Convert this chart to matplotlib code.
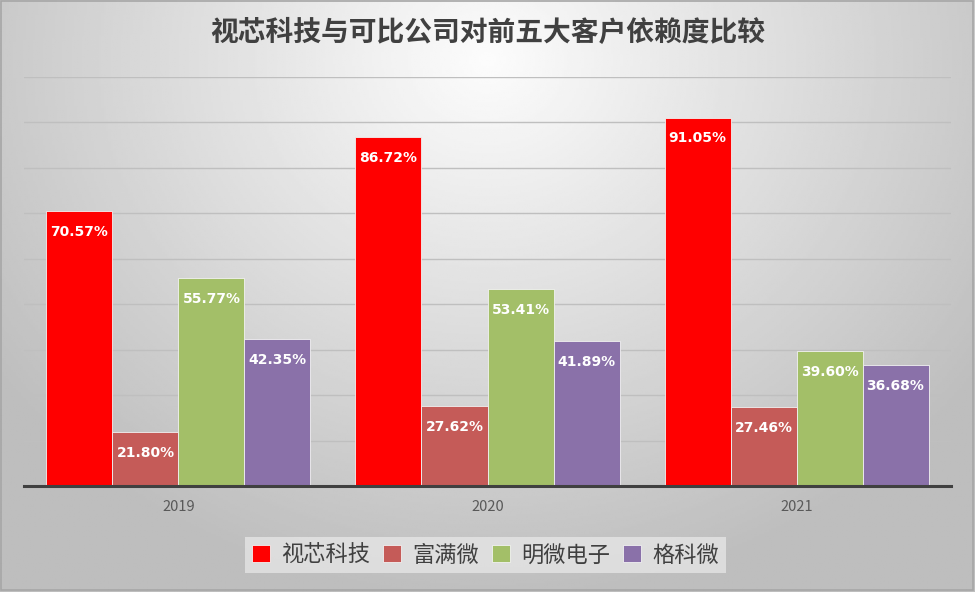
import numpy as np
import matplotlib
matplotlib.use("Agg")
import matplotlib.pyplot as plt
from matplotlib.patches import Rectangle

plt.rcParams['font.family'] = ['Noto Sans CJK SC', 'DejaVu Sans']

# --- DATA ---
years = ["2019", "2020", "2021"]
companies = ["视芯科技", "富满微", "明微电子", "格科微"]
shixin = [70.57, 86.72, 91.05]
fuman = [21.80, 27.62, 27.46]
mingwei = [55.77, 53.41, 39.60]
gekewei = [42.35, 41.89, 36.68]
series = [shixin, fuman, mingwei, gekewei]
colors = ["#FF0000", "#C55B58", "#A3BF68", "#8A71A9"]
title = "视芯科技与可比公司对前五大客户依赖度比较"

fig = plt.figure(figsize=(9.75, 5.92), dpi=100)

# background gradient (light top centre, grey edges)
bg = fig.add_axes([0, 0, 1, 1], zorder=-10)
gx, gy = np.meshgrid(np.linspace(0, 1, 400), np.linspace(0, 1, 300))
d = np.sqrt(((gx - 0.5) / 0.75) ** 2 + ((gy - 0.1) / 1.1) ** 2)
shade = np.clip(252 - 75 * d, 190, 252) / 255.0
bg.imshow(shade, cmap="gray", vmin=0, vmax=1, aspect="auto", extent=[0, 1, 1, 0])
bg.add_patch(Rectangle((0.001, 0.002), 0.997, 0.995, fill=False, ec="#A6A6A6", lw=1.2))
bg.set_xlim(0, 1)
bg.set_ylim(1, 0)
bg.axis("off")

ax = fig.add_axes([0.0246, 0.179, 0.9508, 0.691])
ax.patch.set_alpha(0)

x = np.arange(len(years))
w = 0.2136
for i, (vals, c, name) in enumerate(zip(series, colors, companies)):
    pos = x + (i - 1.5) * w
    bars = ax.bar(pos, np.array(vals) - 10, bottom=10, width=w, color=c,
                  edgecolor="#F2F2F2", linewidth=0.6, label=name, zorder=3)
    for p, v in zip(pos, vals):
        ax.annotate(f"{v:.2f}%", (p, v), xytext=(0, -15), textcoords="offset points",
                    ha="center", va="center", color="white", fontsize=10,
                    fontweight="bold", family=["DejaVu Sans"], zorder=4)

ax.set_xlim(-0.5, 2.5)
ax.set_ylim(10, 100)
ax.set_yticks(np.arange(20, 101, 10))
ax.yaxis.grid(True, color="#BFBFBF", lw=1, zorder=0)
ax.tick_params(axis="y", left=False, labelleft=False)
ax.set_xticks(x)
ax.set_xticklabels(years, color="#595959", fontsize=10.5)
ax.tick_params(axis="x", length=0, pad=10)
for s in ["top", "right", "left"]:
    ax.spines[s].set_visible(False)
ax.spines["bottom"].set_color("#404040")
ax.spines["bottom"].set_linewidth(2.2)
ax.spines["bottom"].set_zorder(5)

fig.text(0.5, 0.944, title, ha="center", va="center", fontsize=20,
         fontweight="bold", color="#404040")

leg = fig.legend(loc="center", bbox_to_anchor=(0.498, 0.0625), ncol=4,
                 fontsize=16, frameon=True, handlelength=0.8, handleheight=0.8,
                 handletextpad=0.5, columnspacing=0.6, borderpad=0.3)
leg.get_frame().set_facecolor("#EAEAEA")
leg.get_frame().set_alpha(0.7)
leg.get_frame().set_edgecolor("none")
leg.get_frame().set_boxstyle("square", pad=0)
for t in leg.get_texts():
    t.set_color("#404040")

fig.savefig("out.png", dpi=100)
